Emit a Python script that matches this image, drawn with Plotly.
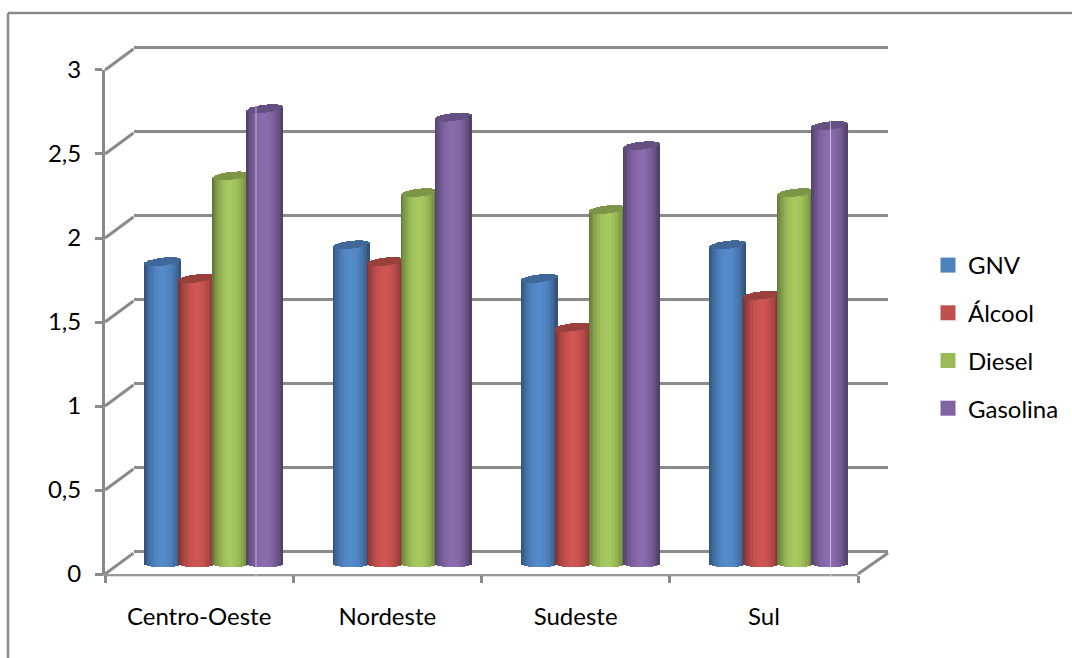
import math
import plotly.graph_objects as go

# ---- data ----
categories = ["Centro-Oeste", "Nordeste", "Sudeste", "Sul"]
series_names = ["GNV", "Álcool", "Diesel", "Gasolina"]
gnv = [1.80, 1.90, 1.70, 1.90]
alcool = [1.70, 1.80, 1.41, 1.60]
diesel = [2.31, 2.21, 2.11, 2.21]
gasolina = [2.71, 2.66, 2.49, 2.61]
y_ticks = [0, 0.5, 1, 1.5, 2, 2.5, 3]
y_tick_labels = ["0", "0,5", "1", "1,5", "2", "2,5", "3"]
colors = ["#4F81BD", "#C0504D", "#9BBB59", "#8064A2"]
series_values = [gnv, alcool, diesel, gasolina]

W, H = 1072, 658
GREY = "#8A8A8A"
FONT = "Lato"
FS = 24
INSET = 0.58 * FS  # vertical inset plotly keeps around the plot area

# pixel frame of the three layers (front axes, back wall, cylinders)
FX0, FX1, FY0, FY1 = 105, 858, 573, 68
DX, DY = 28.5, 21
WALL_DY = 23
BX0, BX1 = 120, 873
BY0 = 563.5
PX_PER_UNIT = (FY0 - FY1) / 3
BY_LOW = -0.1
WALL_PAD = 0.1
BAR_PITCH = 34
BAR_W = 36
CAP_B = 4.0
CAP_SHEAR = 2.0
FOOT_B = 3.0
N_STRIPS = 26
LW = 3


def px(x):
    return x / W


def py(y):
    return 1 - (y - INSET) / (H - 2 * INSET)


def shade(hex_color, f):
    r, g, b = [int(hex_color[i:i + 2], 16) for i in (1, 3, 5)]
    return "rgb(%d,%d,%d)" % tuple(min(255, int(c * f)) for c in (r, g, b))


fig = go.Figure()

# back wall layer (gridlines)
fig.add_trace(go.Scatter(x=[0], y=[0], xaxis="x", yaxis="y", mode="markers",
                         marker=dict(opacity=0), hoverinfo="skip", showlegend=False))
# front axes layer (ticks + labels)
fig.add_trace(go.Scatter(x=categories, y=[0, 0, 0, 0], xaxis="x2", yaxis="y2", mode="markers",
                         marker=dict(opacity=0), hoverinfo="skip", showlegend=False))

# cylinders: each is a fan of thin shaded bars placed through the axis scales
ux = (BX1 - BX0) / 4  # px per category on the bar axis
for s, (name, vals, col) in enumerate(zip(series_names, series_values, colors)):
    xs, ys, bases, cols, widths = [], [], [], [], []
    for c, v in enumerate(vals):
        centre = c + 0.5 + (s - 1.5) * BAR_PITCH / ux
        for k in range(N_STRIPS):
            u = (k + 0.5) / N_STRIPS * 2 - 1
            root = math.sqrt(1 - u * u)
            xpos = centre + u * (BAR_W / 2) / ux
            w = (BAR_W / N_STRIPS + 0.6) / ux
            mid = v + CAP_SHEAR * u / PX_PER_UNIT
            half = CAP_B * root / PX_PER_UNIT
            foot = FOOT_B * root / PX_PER_UNIT
            f = 0.58 + 0.50 * math.cos(abs(u) * math.pi / 2) ** 0.7
            # side of the cylinder
            xs.append(xpos); bases.append(-foot); ys.append(mid - half + foot)
            cols.append(shade(col, f)); widths.append(w)
            # top cap
            xs.append(xpos); bases.append(mid - half); ys.append(2 * half)
            cols.append(shade(col, 0.80)); widths.append(w)
    fig.add_trace(go.Bar(x=xs, y=ys, base=bases, width=widths, xaxis="x3", yaxis="y3",
                         marker=dict(color=cols, line=dict(width=0)),
                         hoverinfo="skip", showlegend=False))

# legend entries
for name, col in zip(series_names, colors):
    fig.add_trace(go.Scatter(x=[None], y=[None], xaxis="x3", yaxis="y3", mode="markers", name=name,
                             legendgroup=name,
                             marker=dict(symbol="square", size=15, color=col)))

shapes = []


def line(x0, y0, x1, y1, color=GREY, width=LW, layer="below"):
    shapes.append(dict(type="line", xref="paper", yref="paper", x0=px(x0), y0=py(y0), x1=px(x1), y1=py(y1),
                       line=dict(color=color, width=width), layer=layer))


# outer frame
line(8, 11, W, 11, width=2.5)
line(8, 11, 8, H, width=2.5)
# depth diagonals
for t in y_ticks:
    yy = FY0 - t * PX_PER_UNIT
    line(FX0, yy, FX0 + DX, yy - DY)
line(FX1, FY0, FX1 + 30, FY0 - DY)
# light edge under the floor
line(FX0, FY0 + 2, FX1, FY0 + 2, color="#DEDEDE", width=2)
# thin light artefact lines through the chart
line(256, 47, 256, 575, color="rgba(255,255,255,0.55)", width=1, layer="above")
line(830.5, 47, 830.5, 575, color="rgba(255,255,255,0.55)", width=1, layer="above")

axis_off = dict(showgrid=False, zeroline=False, showticklabels=False, ticks="", showline=False, fixedrange=True)

fig.update_layout(
    width=W, height=H, margin=dict(l=0, r=0, t=0, b=0),
    paper_bgcolor="white", plot_bgcolor="rgba(0,0,0,0)",
    barmode="overlay", bargap=0,
    font=dict(family=FONT, size=FS, color="#000000"),
    shapes=shapes,
    legend=dict(x=px(928), y=py(335.5), xanchor="left", yanchor="middle",
                tracegroupgap=13.5, itemwidth=30, font=dict(family=FONT, size=FS), bgcolor="rgba(0,0,0,0)"),
    # back wall
    xaxis=dict(domain=[px(FX0 + DX), px(FX1 + 30)], range=[0, 1], anchor="y", **axis_off),
    yaxis=dict(domain=[py(FY0 - WALL_DY + WALL_PAD * PX_PER_UNIT), py(FY1 - WALL_DY - WALL_PAD * PX_PER_UNIT)],
               range=[-WALL_PAD, 3 + WALL_PAD], anchor="x", tickvals=y_ticks,
               showgrid=True, gridcolor=GREY, gridwidth=LW, zeroline=False, showticklabels=False,
               showline=False, ticks="", fixedrange=True),
    # front axes
    xaxis2=dict(domain=[px(FX0), px(FX1)], anchor="y2", type="category", categoryorder="array",
                categoryarray=categories, range=[-0.5, 3.5], tickson="boundaries", ticks="outside",
                ticklen=7, tickwidth=LW, tickcolor=GREY, showline=True, linecolor="#9A9A9A", linewidth=2,
                showgrid=False, zeroline=False, ticklabelstandoff=20, tickangle=0, fixedrange=True,
                tickfont=dict(family=FONT, size=FS)),
    yaxis2=dict(domain=[py(FY0), py(FY1)], anchor="x2", range=[0, 3], tickvals=y_ticks, ticktext=y_tick_labels,
                ticks="outside", ticklen=7, tickwidth=LW, tickcolor=GREY, showline=True, linecolor=GREY,
                linewidth=LW, showgrid=False, zeroline=False, ticklabelstandoff=9, fixedrange=True,
                tickfont=dict(family=FONT, size=FS)),
    # cylinders
    xaxis3=dict(domain=[px(BX0), px(BX1)], range=[0, 4], anchor="y3", **axis_off),
    yaxis3=dict(domain=[py(BY0 - BY_LOW * PX_PER_UNIT), py(BY0 - 3 * PX_PER_UNIT)], range=[BY_LOW, 3],
                anchor="x3", **axis_off),
)

fig.write_html("out.html", post_script="document.body.style.margin='0';", config=dict(displayModeBar=False))
